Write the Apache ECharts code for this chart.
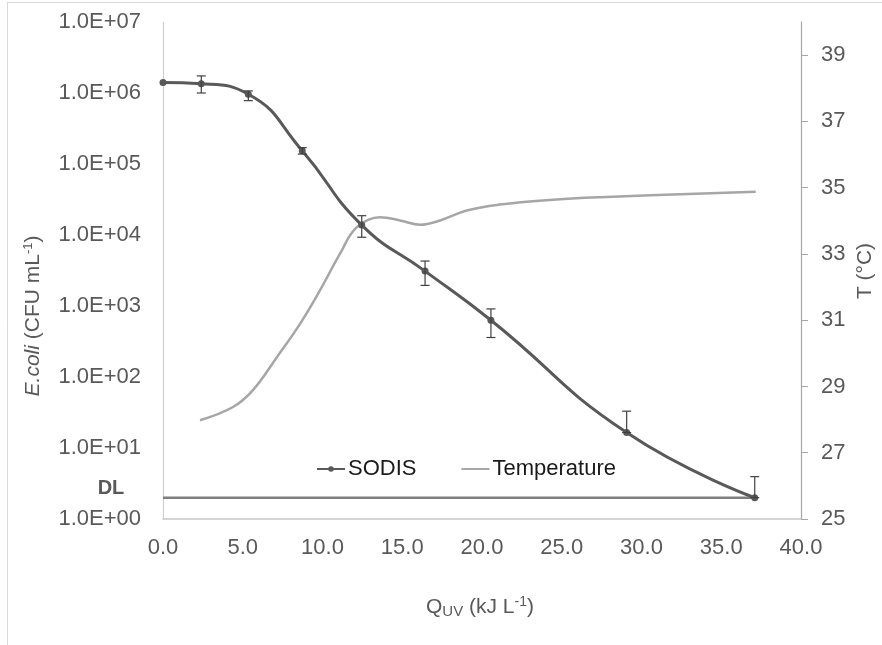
<!DOCTYPE html>
<html><head><meta charset="utf-8">
<script src="https://cdn.jsdelivr.net/npm/echarts@6/dist/echarts.min.js"></script>
<style>html,body{margin:0;padding:0;background:#fff}#c{width:882px;height:645px}</style>
</head><body><div id="c"></div>
<script>
// ---- data ----
const sodisX = [0, 2.4, 5.35, 8.73, 12.46, 16.43, 20.56, 29.07, 37.1];
const sodisY = [1.40e6, 1.35e6, 9.6e5, 1.54e5, 1.38e4, 3.1e3, 6.3e2, 16.5, 2.0];
const sodisErrLow = [1.40e6, 1.0e6, 7.8e5, 1.38e5, 9.3e3, 1.95e3, 3.6e2, 16.5, 2.0];
const sodisErrHigh = [1.40e6, 1.74e6, 1.07e6, 1.70e5, 1.87e4, 4.3e3, 9.1e2, 33, 3.95];
const tempX = [2.32, 4.39, 5.64, 7.15, 8.59, 9.84, 11.10, 12.14, 13.60, 14.86, 16.11, 17.37, 19.04, 21.13, 24.26, 27.40, 37.16];
const tempY = [27.98, 28.38, 28.89, 29.89, 30.89, 31.90, 33.01, 33.80, 34.11, 34.01, 33.88, 34.01, 34.31, 34.49, 34.63, 34.71, 34.88];
const dlX = [0, 37.1];
const dlY = [2, 2];
const seriesNames = ['SODIS', 'Temperature'];

const FONT = '"Liberation Sans", Arial, sans-serif';
const chart = echarts.init(document.getElementById('c'));

const option = {
  animation: false,
  backgroundColor: '#fff',
  grid: { left: 163, right: 81, top: 22, bottom: 126 },
  legend: {
    data: [
      { name: seriesNames[0], itemStyle: { color: '#595959' } },
      { name: seriesNames[1], itemStyle: { opacity: 0 } }
    ],
    left: 311, top: 453,
    itemWidth: 28, itemHeight: 7, itemGap: 44,
    textStyle: { fontFamily: FONT, fontSize: 22, color: '#1a1a1a', padding: [0, 0, 0, -2] }
  },
  xAxis: {
    type: 'value', min: 0, max: 40, interval: 5,
    axisLine: { lineStyle: { color: '#c8c8c8', width: 1.5 } },
    axisTick: { show: false },
    splitLine: { show: false },
    axisLabel: { margin: 18, fontFamily: FONT, fontSize: 22, color: '#595959', formatter: v => v.toFixed(1) }
  },
  yAxis: [
    {
      type: 'log', logBase: 10, min: 1, max: 1e7, splitNumber: 7,
      axisLine: { show: true, lineStyle: { color: '#cfcfcf', width: 1.2 } },
      axisTick: { show: false },
      splitLine: { show: false },
      axisLabel: {
        margin: 22, fontFamily: FONT, fontSize: 22, color: '#595959',
        formatter: v => { const e = Math.round(Math.log10(v)); return '1.0E+' + (e < 10 ? '0' : '') + e; }
      }
    },
    {
      type: 'value', min: 25, max: 40, interval: 2, position: 'right',
      axisLine: { show: true, lineStyle: { color: '#a6a6a6', width: 1.2 } },
      axisTick: { show: true, inside: false, length: 7, lineStyle: { color: '#a6a6a6' } },
      splitLine: { show: false },
      axisLabel: { margin: 20, fontFamily: FONT, fontSize: 22, color: '#595959', showMaxLabel: false }
    }
  ],
  series: [
    {
      name: 'DL', type: 'line', yAxisIndex: 0,
      data: dlX.map((x, i) => [x, dlY[i]]),
      symbol: 'none', lineStyle: { color: '#7f7f7f', width: 2.5 }, z: 1, silent: true
    },
    {
      name: 'Temperature', type: 'line', yAxisIndex: 1,
      data: tempX.map((x, i) => [x, tempY[i]]),
      smooth: 0.4, symbol: 'none',
      itemStyle: { color: '#a6a6a6' },
      lineStyle: { color: '#a6a6a6', width: 2.5 }, z: 2
    },
    {
      name: 'SODIS', type: 'line', yAxisIndex: 0,
      data: sodisX.map((x, i) => [x, sodisY[i]]),
      smooth: 0.5, symbol: 'circle', symbolSize: 7, showSymbol: true,
      itemStyle: { color: '#595959' },
      lineStyle: { color: '#595959', width: 3 }, z: 3
    },
    {
      name: 'err', type: 'custom', yAxisIndex: 0,
      data: sodisX.map((x, i) => [x, sodisErrLow[i], sodisErrHigh[i]]),
      encode: { x: 0, y: [1, 2] },
      z: 5, silent: true,
      renderItem: (params, api) => {
        const x = api.value(0), lo = api.value(1), hi = api.value(2);
        const p1 = api.coord([x, lo]), p2 = api.coord([x, hi]);
        if (Math.abs(p1[1] - p2[1]) < 1) return { type: 'group', children: [] };
        const w = 4.5, st = { stroke: '#404040', lineWidth: 1.2 };
        return {
          type: 'group', children: [
            { type: 'line', shape: { x1: p1[0], y1: p1[1], x2: p2[0], y2: p2[1] }, style: st },
            { type: 'line', shape: { x1: p1[0] - w, y1: p1[1], x2: p1[0] + w, y2: p1[1] }, style: st },
            { type: 'line', shape: { x1: p2[0] - w, y1: p2[1], x2: p2[0] + w, y2: p2[1] }, style: st }
          ]
        };
      }
    }
  ],
  graphic: [
    { type: 'line', shape: { x1: 7, y1: 2.5, x2: 882, y2: 2.5 }, style: { stroke: '#d9d9d9', lineWidth: 1 }, silent: true },
    { type: 'line', shape: { x1: 7.5, y1: 2, x2: 7.5, y2: 645 }, style: { stroke: '#d9d9d9', lineWidth: 1 }, silent: true },
    {
      type: 'text', x: 111, y: 488,
      style: { text: 'DL', font: 'bold 20px ' + FONT, fill: '#595959', align: 'center', verticalAlign: 'middle' }
    },
    {
      type: 'text', x: 33, y: 316, rotation: Math.PI / 2,
      style: {
        text: '{i|E.coli} (CFU mL{sup|-1})', font: '21px ' + FONT, fill: '#595959',
        align: 'center', verticalAlign: 'middle',
        rich: {
          i: { fontStyle: 'italic', fontSize: 21, fontFamily: FONT, fill: '#595959' },
          sup: { fontSize: 13, fontFamily: FONT, fill: '#595959', padding: [0, 0, 10, 0] }
        }
      }
    },
    {
      type: 'text', x: 865, y: 271, rotation: Math.PI / 2,
      style: { text: 'T (°C)', font: '21px ' + FONT, fill: '#595959', align: 'center', verticalAlign: 'middle' }
    },
    {
      type: 'text', x: 480, y: 607,
      style: {
        text: 'Q{sub|UV} (kJ L{sup|-1})', font: '21px ' + FONT, fill: '#595959',
        align: 'center', verticalAlign: 'middle',
        rich: {
          sub: { fontSize: 15, fontFamily: FONT, fill: '#595959', padding: [9, 0, 0, 0] },
          sup: { fontSize: 14, fontFamily: FONT, fill: '#595959', padding: [0, 0, 9, 0] }
        }
      }
    }
  ]
};
chart.setOption(option);
</script>
</body></html>
